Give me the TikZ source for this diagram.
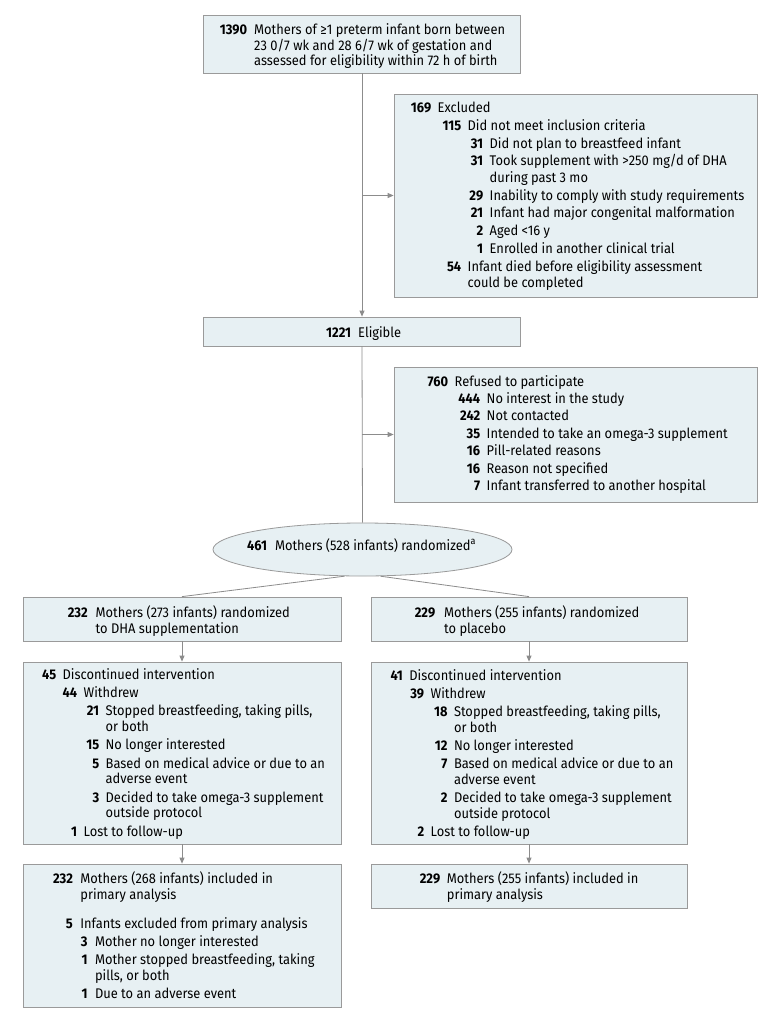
\documentclass[tikz,border=0pt]{standalone}
\usepackage{fontspec}
\setmainfont[FakeStretch=0.92]{Fira Sans}
\usetikzlibrary{arrows.meta,shapes.geometric}
\definecolor{boxfill}{HTML}{E7F0F3}
\definecolor{boxline}{HTML}{9A9A9A}
\definecolor{conn}{HTML}{8C8C8C}
\newlength\gapn
\newlength\isk
\newcommand\Lf[3]{\noindent\makebox[#1][r]{\bfseries #2}\hspace{\gapn}#3\par}
\newcommand\Li[3]{\vspace{\isk}\noindent\makebox[#1][r]{\bfseries #2}\hspace{\gapn}#3\par}
\newcommand\Lc[2]{\noindent\hspace*{#1}\hspace{\gapn}#2\par}
\newcommand\blk[4]{\parbox[t]{440pt}{\fontsize{14pt}{#1}\selectfont\lineskiplimit=-20pt\setlength\isk{#2}\setlength\gapn{#3}\parindent=0pt\parskip=0pt #4}}
\tikzset{
  bx/.style={draw=boxline, fill=boxfill, line width=0.8pt, rectangle, inner sep=0pt},
  txt/.style={anchor=base west, inner sep=0pt},
  ln/.style={draw=conn, line width=0.8pt},
  arr/.style={draw=conn, line width=0.8pt, -{Triangle[length=6pt,width=5pt]}, conn},
}
\begin{document}
\begin{tikzpicture}[x=1pt,y=-1pt]
\path[use as bounding box, fill=white] (0,0) rectangle (780,1020);
% boxes
\node[bx, minimum width=317pt, minimum height=58pt] (b1) at (362,44) {};
\node[bx, minimum width=363pt, minimum height=203pt] (ex) at (575.5,195.5) {};
\node[bx, minimum width=317pt, minimum height=29pt] (el) at (362,331.5) {};
\node[bx, minimum width=363pt, minimum height=135pt] (rf) at (575.5,434.5) {};
\node[bx, ellipse, minimum width=299pt, minimum height=53pt] (rand) at (362.5,549.5) {};
\node[bx, minimum width=318pt, minimum height=44pt] (b2l) at (182,619) {};
\node[bx, minimum width=316pt, minimum height=44pt] (b2r) at (529,619) {};
\node[bx, minimum width=318pt, minimum height=182pt] (b3l) at (182,753) {};
\node[bx, minimum width=316pt, minimum height=182pt] (b3r) at (529,753) {};
\node[bx, minimum width=318pt, minimum height=143pt] (b4l) at (182,935.5) {};
\node[bx, minimum width=316pt, minimum height=44pt] (b4r) at (529,886) {};
% texts
\node[txt] (t1) at (204,34.7) {\blk{15.3pt}{0pt}{7pt}{%
\Lf{43pt}{1390}{Mothers of ≥1 preterm infant born between}%
\Lc{43pt}{23 0/7 wk and 28 6/7 wk of gestation and}%
\Lc{43pt}{assessed for eligibility within 72 h of birth}}};
\node[txt] (tex) at (394,112.7) {\blk{16.7pt}{1pt}{6.5pt}{%
\Lf{37pt}{169}{Excluded}%
\Li{67pt}{115}{Did not meet inclusion criteria}%
\Li{89pt}{31}{Did not plan to breastfeed infant}%
\Li{89pt}{31}{Took supplement with >250 mg/d of DHA}%
\Lc{89pt}{during past 3 mo}%
\Li{89pt}{29}{Inability to comply with study requirements}%
\Li{89pt}{21}{Infant had major congenital malformation}%
\Li{89pt}{2}{Aged <16 y}%
\Li{89pt}{1}{Enrolled in another clinical trial}%
\Li{67pt}{54}{Infant died before eligibility assessment}%
\Lc{67pt}{could be completed}}};
\node[txt] (tel) at (203.5,337) {\blk{15.7pt}{0pt}{7pt}{%
\Lf{147.5pt}{1221}{Eligible}}};
\node[txt] (trf) at (394,386) {\blk{17.4pt}{0pt}{6.5pt}{%
\Lf{54pt}{760}{Refused to participate}%
\Li{86pt}{444}{No interest in the study}%
\Li{86pt}{242}{Not contacted}%
\Li{86pt}{35}{Intended to take an omega-3 supplement}%
\Li{86pt}{16}{Pill-related reasons}%
\Li{86pt}{16}{Reason not specified}%
\Li{86pt}{7}{Infant transferred to another hospital}}};
\node[txt] (trand) at (247,550) {\fontsize{14pt}{15.7pt}\selectfont\textbf{461}\hspace{8pt}Mothers (528 infants) randomized\textsuperscript{a}};
\node[txt] (t2l) at (23,617.3) {\blk{16pt}{0pt}{8pt}{%
\Lf{64.5pt}{232}{Mothers (273 infants) randomized}%
\Lc{64.5pt}{to DHA supplementation}}};
\node[txt] (t2r) at (371,617.3) {\blk{16pt}{0pt}{9pt}{%
\Lf{64pt}{229}{Mothers (255 infants) randomized}%
\Lc{64pt}{to placebo}}};
\node[txt] (t3l) at (23,679.3) {\blk{15.7pt}{2.6pt}{6.5pt}{%
\Lf{33pt}{45}{Discontinued intervention}%
\Li{54pt}{44}{Withdrew}%
\Li{76pt}{21}{Stopped breastfeeding, taking pills,}%
\Lc{76pt}{or both}%
\Li{76pt}{15}{No longer interested}%
\Li{76pt}{5}{Based on medical advice or due to an}%
\Lc{76pt}{adverse event}%
\Li{76pt}{3}{Decided to take omega-3 supplement}%
\Lc{76pt}{outside protocol}%
\Li{54pt}{1}{Lost to follow-up}}};
\node[txt] (t3r) at (371,680) {\blk{15.7pt}{2.6pt}{6.5pt}{%
\Lf{31.7pt}{41}{Discontinued intervention}%
\Li{53pt}{39}{Withdrew}%
\Li{76.3pt}{18}{Stopped breastfeeding, taking pills,}%
\Lc{76.3pt}{or both}%
\Li{76.3pt}{12}{No longer interested}%
\Li{76.3pt}{7}{Based on medical advice or due to an}%
\Lc{76.3pt}{adverse event}%
\Li{76.3pt}{2}{Decided to take omega-3 supplement}%
\Lc{76.3pt}{outside protocol}%
\Li{53pt}{2}{Lost to follow-up}}};
\node[txt] (t4l) at (23,883.3) {\blk{15.7pt}{2.6pt}{7.5pt}{%
\Lf{49.7pt}{232}{Mothers (268 infants) included in}%
\Lc{49.7pt}{primary analysis}%
\vspace{11pt}%
\Li{49.7pt}{5}{Infants excluded from primary analysis}%
\Li{64.3pt}{3}{Mother no longer interested}%
\Li{64.3pt}{1}{Mother stopped breastfeeding, taking}%
\Lc{64.3pt}{pills, or both}%
\Li{64.3pt}{1}{Due to an adverse event}}};
\node[txt] (t4r) at (371,883.3) {\blk{15.7pt}{0pt}{6.7pt}{%
\Lf{69pt}{229}{Mothers (255 infants) included in}%
\Lc{69pt}{primary analysis}}};
% connectors
\draw[arr] (b1.south) -- (el.north);
\draw[arr] (b1.south |- ex.west) -- (ex.west);
\draw[ln] (el.south) -- (rand.north);
\draw[arr] (el.south |- rf.west) -- (rf.west);
\draw[ln] (rand.236) -- (b2l.north);
\draw[ln] (rand.304) -- (b2r.north);
\draw[arr] (b2l.south) -- (b3l.north);
\draw[arr] (b2r.south) -- (b3r.north);
\draw[arr] (b3l.south) -- (b4l.north);
\draw[arr] (b3r.south) -- (b4r.north);
\end{tikzpicture}
\end{document}
